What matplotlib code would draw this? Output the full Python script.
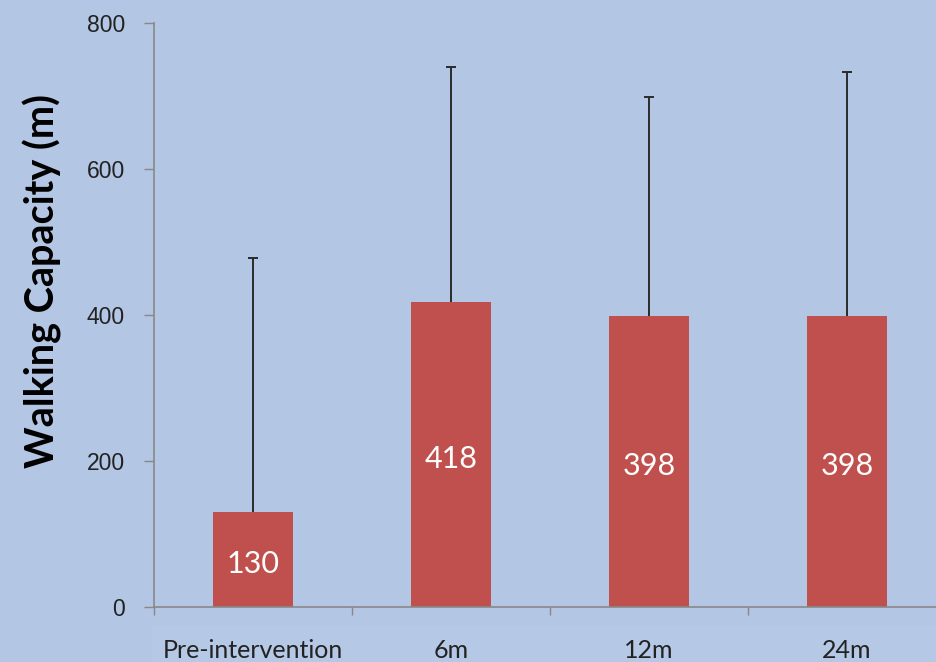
import matplotlib
matplotlib.use("Agg")
import matplotlib.pyplot as plt
from matplotlib.patches import Rectangle

categories = ["Pre-intervention", "6m", "12m", "24m"]
values = [130, 418, 398, 398]
errors_up = [348, 322, 301, 335]
yticks = [0, 200, 400, 600, 800]

bg = "#B3C6E4"
bar_color = "#C0504D"
axis_gray = "#888888"

W, H = 936, 662
fig = plt.figure(figsize=(W / 100, H / 100), dpi=100, facecolor=bg)

# lighter band behind x labels
band = Rectangle((152 / W, 0), 1, (H - 625) / H, transform=fig.transFigure,
                 facecolor="#B5C8E5", edgecolor="none", zorder=-5)
fig.add_artist(band)

left, right, bottom, top = 154, 946, 607, 23
ax = fig.add_axes([left / W, (H - bottom) / H, (right - left) / W, (bottom - top) / H])
ax.set_facecolor("none")
ax.set_zorder(1)

x = list(range(len(categories)))
ax.bar(x, values, width=0.40, color=bar_color, zorder=2)
tops = [v + e for v, e in zip(values, errors_up)]
ax.vlines(x, values, tops, color="#2a2a2a", linewidth=1.4, zorder=3)
ax.plot(x, tops, linestyle="none", marker="_", markersize=7, markeredgewidth=1.4,
        color="#2a2a2a", zorder=3)

for xi, v in zip(x, values):
    ax.annotate(str(v), (xi, v / 2), xytext=(0, -3), textcoords="offset points",
                ha="center", va="center", color="white",
                fontsize=22, family="Lato", zorder=4)

ax.set_xlim(-0.5, len(categories) - 0.5)
ax.set_ylim(0, 800)
ax.set_yticks(yticks)
ax.set_yticklabels([str(t) for t in yticks], family="Liberation Sans", fontsize=16.5, color="#222222")
ax.tick_params(axis="y", direction="out", length=7, width=1, color=axis_gray, pad=14)

ax.set_xticks(x)
ax.set_xticklabels(categories, family="Lato", fontsize=18, color="#222222")
ax.set_xticks([i - 0.5 for i in range(len(categories) + 1)], minor=True)
ax.tick_params(axis="x", which="major", length=0, pad=23)
ax.tick_params(axis="x", which="minor", direction="out", length=6, width=1, color=axis_gray)

for s in ["top", "right"]:
    ax.spines[s].set_visible(False)
ax.spines["left"].set_color(axis_gray)
ax.spines["bottom"].set_color(axis_gray)
ax.spines["left"].set_linewidth(1.2)
ax.spines["bottom"].set_linewidth(1.2)

fig.text(42 / W, 1 - 281 / H, "Walking Capacity (m)", family="Lato", fontweight="bold",
         fontsize=28.5, color="black", rotation=90, ha="center", va="center")

fig.savefig("out.png", dpi=100, facecolor=bg)
